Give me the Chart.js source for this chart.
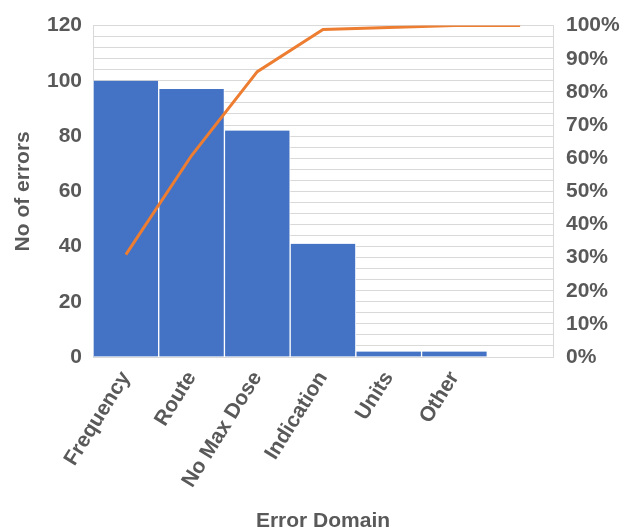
<!DOCTYPE html>
<html>
<head>
<meta charset="utf-8">
<script src="https://cdn.jsdelivr.net/npm/chart.js@4/dist/chart.umd.min.js"></script>
<style>
html,body{margin:0;padding:0;background:#fff;}
#wrap{width:622px;height:530px;position:relative;}
</style>
</head>
<body>
<div id="wrap"><canvas id="c" width="622" height="530"></canvas></div>
<script>
const categories = ["Frequency", "Route", "No Max Dose", "Indication", "Units", "Other", ""];
const errorCounts = [100, 97, 82, 41, 2, 2, null];
const cumulativePercent = [30.9, 60.8, 86.1, 98.8, 99.4, 100, 100];
const leftTickLabels = [0, 20, 40, 60, 80, 100, 120];
const rightTickLabels = ["0%","10%","20%","30%","40%","50%","60%","70%","80%","90%","100%"];

const FONT = "'Liberation Sans', Arial, sans-serif";
const TXT = "#595959";

new Chart(document.getElementById('c'), {
  data: {
    labels: categories,
    datasets: [
      {
        type: 'line',
        data: cumulativePercent,
        yAxisID: 'y1',
        borderColor: '#ED7D31',
        borderWidth: 3,
        pointRadius: 0,
        tension: 0,
        order: 0
      },
      {
        type: 'bar',
        data: errorCounts,
        yAxisID: 'y',
        backgroundColor: '#4472C4',
        borderColor: '#FFFFFF',
        borderWidth: {left: 1, right: 1, top: 0, bottom: 0},
        borderSkipped: false,
        barPercentage: 1,
        categoryPercentage: 1,
        order: 1
      }
    ]
  },
  options: {
    responsive: false,
    animation: false,
    layout: {padding: {top: 24, left: 0, right: 0, bottom: 0}},
    plugins: {legend: {display: false}, tooltip: {enabled: false}},
    scales: {
      x: {
        grid: {display: false, drawTicks: false},
        border: {display: true, color: '#D9D9D9'},
        ticks: {
          color: TXT,
          font: {family: FONT, size: 21, weight: 'bold'},
          minRotation: 58, maxRotation: 58,
          padding: 10,
          autoSkip: false
        },
        title: {
          display: true, text: 'Error Domain', color: TXT,
          font: {family: FONT, size: 21, weight: 'bold'},
          padding: {top: 0, bottom: -4}
        },
        afterFit: (s) => { s.height = 173; }
      },
      y: {
        position: 'left',
        min: 0, max: 120,
        ticks: {
          stepSize: 4,
          color: TXT,
          font: {family: FONT, size: 21, weight: 'bold'},
          padding: 11,
          autoSkip: false,
          callback: (v) => leftTickLabels.includes(v) ? String(v) : ''
        },
        grid: {color: '#D9D9D9', lineWidth: 1, drawTicks: false},
        border: {display: true, color: '#D9D9D9'},
        title: {
          display: true, text: 'No of errors', color: TXT,
          font: {family: FONT, size: 21, weight: 'bold'},
          padding: {top: 11, bottom: 0}
        },
        afterFit: (s) => { s.width = 93; }
      },
      y1: {
        position: 'right',
        min: 0, max: 100,
        ticks: {
          stepSize: 10,
          color: TXT,
          font: {family: FONT, size: 21, weight: 'bold'},
          padding: 13,
          callback: (v) => rightTickLabels[Math.round(v/10)]
        },
        grid: {display: false, drawTicks: false},
        border: {display: true, color: '#D9D9D9'},
        afterFit: (s) => { s.width = 69; }
      }
    }
  }
});
</script>
</body>
</html>
